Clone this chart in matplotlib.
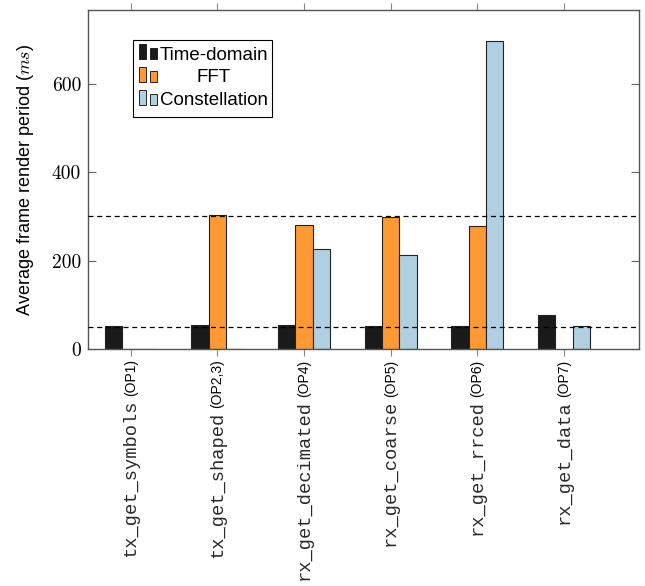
import matplotlib
matplotlib.use("Agg")
import matplotlib.pyplot as plt
import numpy as np
from matplotlib.patches import Rectangle

plt.rcParams['mathtext.fontset'] = 'cm'

# data (ms)
functions = ['tx_get_symbols', 'tx_get_shaped', 'rx_get_decimated',
             'rx_get_coarse', 'rx_get_rrced', 'rx_get_data']
ops = ['(OP1)', '(OP2,3)', '(OP4)', '(OP5)', '(OP6)', '(OP7)']
time_domain = [51, 54, 54, 51, 53, 77]
fft = [0, 303, 280, 299, 279, np.nan]
constellation = [0, 0, 226, 212, 697, 51]
thresholds = [50, 300]

series = [('Time-domain', time_domain, '#1a1a1a'),
          ('FFT', fft, '#ff9933'),
          ('Constellation', constellation, '#b0cfe0')]

fig = plt.figure(figsize=(6.45, 5.86), dpi=100)
ax = fig.add_axes([0.1364, 0.4044, 0.8543, 0.5786])

x = np.arange(len(functions))
width = 0.2
for k, (name, vals, col) in enumerate(series):
    ax.bar(x + (k - 1) * width, vals, width, color=col,
           edgecolor='#222222', linewidth=0.8, zorder=2)

for t in thresholds:
    ax.axhline(t, color='black', lw=0.9, ls=(0, (4, 3)), zorder=3)

ax.set_xlim(-0.493, 5.865)
ax.set_ylim(0, 767)

ax.set_yticks([0, 200, 400, 600])
ax.set_yticklabels(['0', '200', '400', '600'], fontfamily='cmr10', fontsize=14)
ax.tick_params(axis='y', direction='in', length=6, width=0.8, right=True,
               pad=5, color='#666666')
ax.set_xticks(x)
ax.set_xticklabels([])
ax.tick_params(axis='x', direction='out', length=5, width=0.8, top=True,
               color='#888888')
for s in ax.spines.values():
    s.set_color('#555555')
    s.set_linewidth(1.0)

ax.set_ylabel('Average frame render period ($ms$)', fontfamily='Liberation Sans',
              fontsize=13)
ax.yaxis.set_label_coords(-0.095, 0.5)

# x labels: sans op tag then monospace function name, rotated
for i, (fn, op) in enumerate(zip(functions, ops)):
    t1 = ax.annotate(op, xy=(i, 0), xycoords=('data', 'axes fraction'),
                     xytext=(0, -7.5), textcoords='offset points',
                     rotation=90, ha='center', va='top',
                     fontfamily='Liberation Sans', fontsize=10)
    ax.annotate(fn, xy=(0.5, 0), xycoords=t1,
                xytext=(0, -2.5), textcoords='offset points',
                rotation=90, ha='center', va='top', color='#2a2a2a',
                fontfamily='Liberation Mono', fontsize=13.5)

# legend drawn by hand (pgfplots style, two small bars per entry)
tr = ax.transAxes
ax.add_patch(Rectangle((0.0811, 0.6835), 0.2523, 0.228, transform=tr,
                       facecolor='white', edgecolor='black', lw=0.8, zorder=5))
rows = [0.867, 0.800, 0.7316]
for (name, vals, col), yr in zip(series, rows):
    yb = yr - 0.013
    ax.add_patch(Rectangle((0.0931, yb), 0.0122, 0.045, transform=tr,
                           facecolor=col, edgecolor='#222222', lw=0.7, zorder=6))
    ax.add_patch(Rectangle((0.1131, yb), 0.0116, 0.0325, transform=tr,
                           facecolor=col, edgecolor='#222222', lw=0.7, zorder=6))
    ax.text(0.2287, yr, name, transform=tr, ha='center', va='center',
            fontfamily='Liberation Sans', fontsize=13.5, zorder=6)

fig.savefig('out.png', dpi=100)
